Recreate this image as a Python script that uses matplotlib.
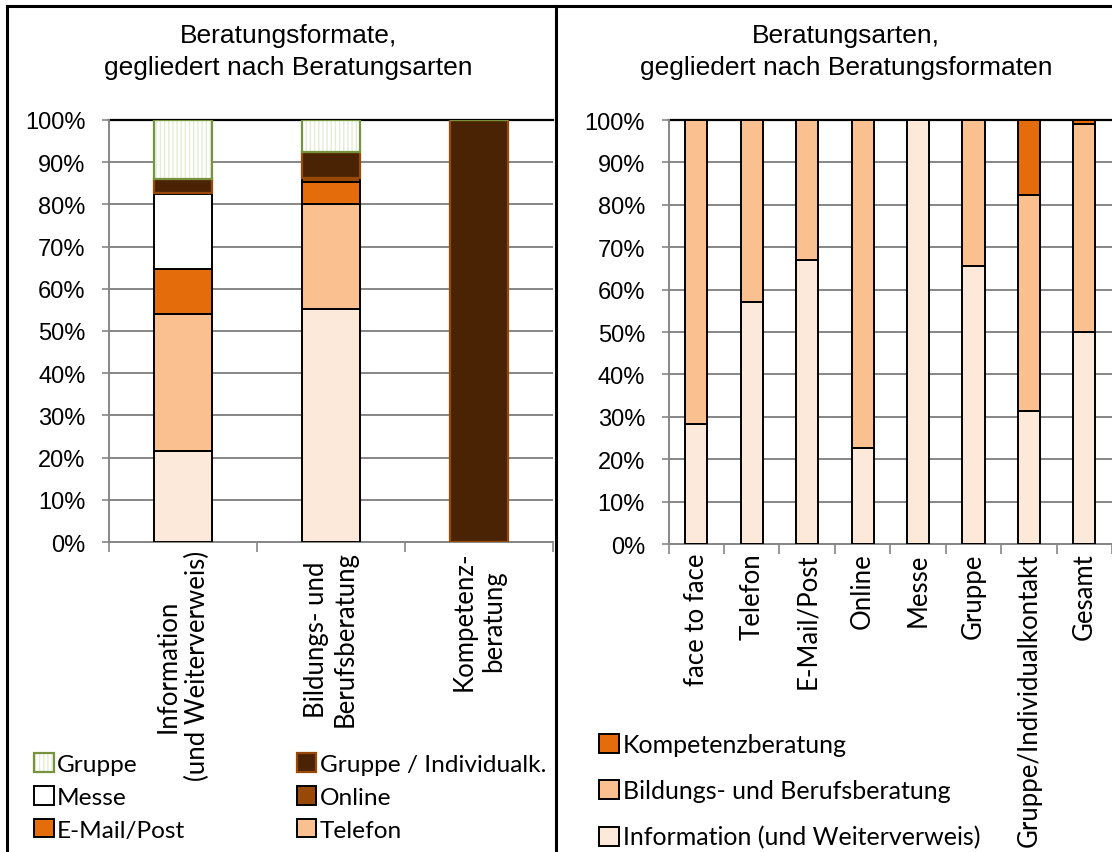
import matplotlib
matplotlib.use("Agg")
import matplotlib.pyplot as plt
from matplotlib.lines import Line2D
from matplotlib.patches import Rectangle
from matplotlib.legend_handler import HandlerBase
from matplotlib.ticker import FuncFormatter, FixedLocator
import numpy as np

# ---- data: left panel (formats per counselling type) ----
arten = ["Information\n(und Weiterverweis)", "Bildungs- und\nBerufsberatung", "Kompetenz-\nberatung"]
face_to_face = [21.6, 55.1, 0.0]
telefon = [32.4, 25.0, 0.0]
email_post = [10.6, 5.2, 0.0]
messe = [17.8, 0.0, 0.0]
online = [0.3, 0.9, 0.0]
gruppe_indiv = [3.4, 6.2, 100.0]
gruppe = [13.9, 7.6, 0.0]

# ---- data: right panel (counselling types per format) ----
formate = ["face to face", "Telefon", "E-Mail/Post", "Online", "Messe",
           "Gruppe", "Gruppe/Individualkontakt", "Gesamt"]
information = [28.4, 57.0, 67.0, 22.7, 100.0, 65.6, 31.3, 49.9]
bildung = [71.6, 43.0, 33.0, 77.3, 0.0, 34.4, 51.0, 49.2]
kompetenz = [0.0, 0.0, 0.0, 0.0, 0.0, 0.0, 17.7, 0.9]

W, H = 1112, 853
fig = plt.figure(figsize=(W / 100, H / 100), dpi=100)

GRID = "#868686"
C_LIGHT = "#FDE9D9"
C_PEACH = "#FAC090"
C_ORANGE = "#E46C0A"
C_BROWN = "#984807"
C_DARK = "#4A2305"
C_GREEN = "#77933C"
C_GREEN_HATCH = "#E4ECD3"

TICK_FONT = "Liberation Sans"
LABEL_FONT = "Lato"


def fx(px):
    return px / W


def fy(px):
    return 1 - px / H


def style_axes(ax, n):
    ax.set_xlim(-0.5, n - 0.5)
    ax.set_ylim(0, 100)
    ax.set_yticks(np.arange(0, 101, 10))
    ax.yaxis.set_major_formatter(FuncFormatter(lambda v, p: f"{int(v)}%"))
    ax.grid(axis="y", color=GRID, lw=1.4, zorder=0)
    ax.set_axisbelow(True)
    for s in ("top", "right"):
        ax.spines[s].set_visible(False)
    for s in ("left", "bottom"):
        ax.spines[s].set_color(GRID)
        ax.spines[s].set_linewidth(1.4)
    ax.axhline(100, color="black", lw=1.6, zorder=1, clip_on=False)
    ax.tick_params(axis="y", direction="out", length=5, width=1.2, color=GRID,
                   labelsize=17, pad=12)
    for lab in ax.get_yticklabels():
        lab.set_fontfamily(TICK_FONT)
    ax.set_xticks(np.arange(n))
    ax.xaxis.set_minor_locator(FixedLocator(np.arange(n + 1) - 0.5))
    ax.tick_params(axis="x", which="major", length=0, pad=6)
    ax.tick_params(axis="x", which="minor", direction="out", length=7,
                   width=1.2, color=GRID)


class HatchedBoxHandler(HandlerBase):
    """Legend key: hatched fill with a separately coloured outline."""

    def __init__(self, fill_kw, edge_kw):
        super().__init__()
        self.fill_kw = fill_kw
        self.edge_kw = edge_kw

    def create_artists(self, legend, orig_handle, xdescent, ydescent,
                       width, height, fontsize, trans):
        fill = Rectangle((-xdescent, -ydescent), width, height,
                         transform=trans, **self.fill_kw)
        edge = Rectangle((-xdescent, -ydescent), width, height,
                         transform=trans, fill=False, **self.edge_kw)
        return [fill, edge]


# ---- left panel ----
axL = fig.add_axes([fx(109), fy(543), fx(553) - fx(109), fy(121) - fy(543)])
xl = np.arange(len(arten))
bw_l = 0.39
edge_kw = dict(edgecolor="black", linewidth=1.4, zorder=3)
gruppe_fill_kw = dict(facecolor="white", edgecolor=C_GREEN_HATCH, linewidth=0,
                      hatch="||||")
gruppe_edge_kw = dict(edgecolor=C_GREEN, linewidth=1.6)

bottom = np.zeros(len(arten))
b_face = axL.bar(xl, face_to_face, bw_l, bottom=bottom, color=C_LIGHT, **edge_kw)
bottom += face_to_face
b_tel = axL.bar(xl, telefon, bw_l, bottom=bottom, color=C_PEACH, **edge_kw)
bottom += telefon
b_mail = axL.bar(xl, email_post, bw_l, bottom=bottom, color=C_ORANGE, **edge_kw)
bottom += email_post
b_messe = axL.bar(xl, messe, bw_l, bottom=bottom, color="white", **edge_kw)
bottom += messe
b_online = axL.bar(xl, online, bw_l, bottom=bottom, color=C_BROWN, **edge_kw)
bottom += online
b_gi = axL.bar(xl, gruppe_indiv, bw_l, bottom=bottom, color=C_DARK,
               edgecolor=C_BROWN, linewidth=1.6, zorder=3)
bottom += gruppe_indiv
b_gr_fill = axL.bar(xl, gruppe, bw_l, bottom=bottom, zorder=3, **gruppe_fill_kw)
b_gr_edge = axL.bar(xl, gruppe, bw_l, bottom=bottom, fill=False, zorder=4,
                    **gruppe_edge_kw)
style_axes(axL, len(arten))
axL.set_xticklabels(arten, rotation=90, fontfamily=LABEL_FONT, fontsize=18.5,
                    multialignment="center")

# ---- right panel ----
axR = fig.add_axes([fx(668.6), fy(545), 1 - fx(668.6), fy(121) - fy(545)])
xr = np.arange(len(formate))
bw_r = 0.4
bottom = np.zeros(len(formate))
r_info = axR.bar(xr, information, bw_r, bottom=bottom, color=C_LIGHT, **edge_kw)
bottom += information
r_bild = axR.bar(xr, bildung, bw_r, bottom=bottom, color=C_PEACH, **edge_kw)
bottom += bildung
r_komp = axR.bar(xr, kompetenz, bw_r, bottom=bottom, color=C_ORANGE, **edge_kw)
style_axes(axR, len(formate))
axR.set_xticklabels(formate, rotation=90, fontfamily=LABEL_FONT, fontsize=18.5)

# ---- titles ----
title_kw = dict(fontfamily=TICK_FONT, fontsize=19, ha="center", va="baseline")
fig.text(fx(288), fy(43.5), "Beratungsformate,", **title_kw)
fig.text(fx(288), fy(75), "gegliedert nach Beratungsarten", **title_kw)
fig.text(fx(846), fy(43.5), "Beratungsarten,", **title_kw)
fig.text(fx(846), fy(75), "gegliedert nach Beratungsformaten", **title_kw)

# ---- legends ----
leg_kw = dict(frameon=False, prop={"family": LABEL_FONT, "size": 18},
              handlelength=0.8, handleheight=0.8, handletextpad=0.15,
              borderpad=0, borderaxespad=0, loc="upper left")
gruppe_key = Rectangle((0, 0), 1, 1)
handlesL = [gruppe_key, b_messe[0], b_mail[0],
            b_gi[0], b_online[0], b_tel[0]]
labelsL = ["Gruppe", "Messe", "E-Mail/Post",
           "Gruppe / Individualk.", "Online", "Telefon"]
fig.legend(handlesL, labelsL, ncol=2, columnspacing=4.55, labelspacing=0.45,
           bbox_to_anchor=(fx(34), fy(754)),
           prop={"family": LABEL_FONT, "size": 17.6},
           handler_map={gruppe_key: HatchedBoxHandler(gruppe_fill_kw, gruppe_edge_kw)},
           **{k: v for k, v in leg_kw.items() if k != "prop"})

handlesR = [r_komp[0], r_bild[0], r_info[0]]
labelsR = ["Kompetenzberatung", "Bildungs- und Berufsberatung",
           "Information (und Weiterverweis)"]
fig.legend(handlesR, labelsR, labelspacing=0.93,
           bbox_to_anchor=(fx(599), fy(734)), **leg_kw)

# ---- panel frame ----
frame_kw = dict(color="black", lw=2.2, transform=fig.transFigure)
fig.add_artist(Line2D([fx(7), 1], [fy(7), fy(7)], **frame_kw))
fig.add_artist(Line2D([fx(7), fx(7)], [fy(7), 0], **frame_kw))
fig.add_artist(Line2D([fx(556), fx(556)], [fy(7), 0], **frame_kw))

fig.savefig("out.png", dpi=100)
